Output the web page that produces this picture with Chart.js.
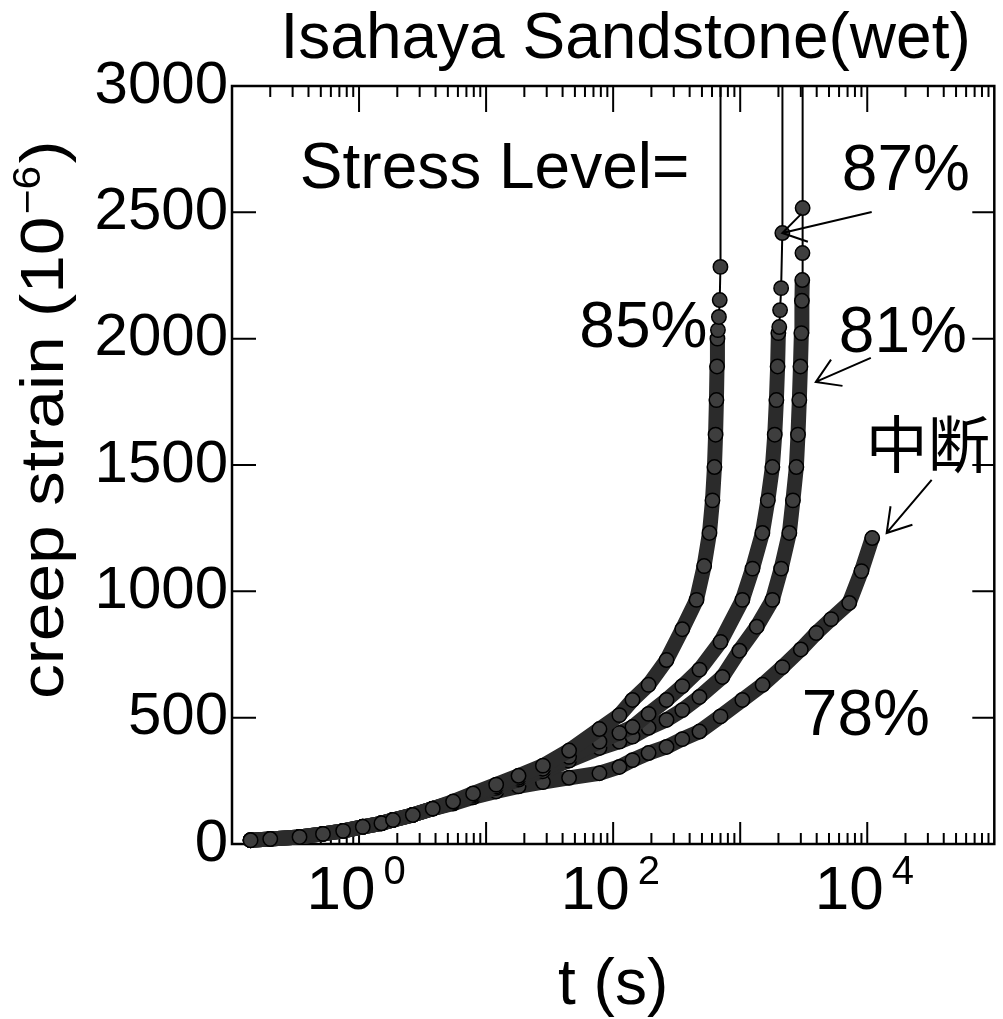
<!DOCTYPE html>
<html><head><meta charset="utf-8">
<script src="https://cdn.jsdelivr.net/npm/chart.js@4.4.0/dist/chart.umd.min.js"></script>
<style>html,body{margin:0;padding:0;background:#fff;}canvas{display:block;}</style>
</head><body>
<canvas id="c" width="1003" height="1019"></canvas>
<script>
// ---------- text ----------
const chartTitle = 'Isahaya Sandstone(wet)';
const xAxisTitle = 't (s)';
const yAxisTitleMain = 'creep strain (10';
const yAxisTitleExp = '−6';
const yAxisTitleEnd = ')';
// ---------- ticks ----------
const xTickValues = [1, 100, 10000];
const xTickBase = ['10', '10', '10'];
const xTickExponents = ['0', '2', '4'];
const xMinorMultipliers = [2, 3, 4, 5, 6, 7, 8, 9];
const xDecades = [-1, 0, 1, 2, 3, 4, 5];
const yTickValues = [0, 500, 1000, 1500, 2000, 2500, 3000];
// ---------- series (t in s, creep strain in 1e-6) ----------
const seriesNames = ['85%', '87%', '81%', '78%'];
const t85 = [0.14, 0.2, 0.34, 0.52, 0.75, 1.07, 1.5, 1.85, 2.65, 3.8, 5.5, 7.9, 12, 18, 28, 45, 78, 112, 142, 190, 263, 350, 453, 520, 573, 605, 627, 640, 650, 657, 662, 668, 680, 690, 699, 700];
const s85 = [15, 20, 28, 40, 52, 68, 82, 95, 115, 140, 168, 200, 235, 270, 310, 370, 455, 510, 570, 630, 728, 850, 966, 1100, 1231, 1360, 1492, 1620, 1757, 1890, 2000, 2034, 2086, 2153, 2284, 4000];
const t87 = [0.14, 0.2, 0.34, 0.52, 0.75, 1.07, 1.5, 1.85, 2.65, 3.8, 5.5, 7.9, 12, 18, 28, 45, 78, 112, 142, 190, 263, 350, 478, 700, 1040, 1250, 1495, 1650, 1792, 1870, 1927, 1970, 1997, 2030, 2060, 2100, 2146, 2150];
const s87 = [15, 20, 28, 40, 52, 68, 82, 95, 115, 140, 165, 195, 228, 262, 298, 345, 405, 440, 463, 515, 570, 625, 690, 800, 966, 1090, 1231, 1360, 1492, 1620, 1757, 1890, 2022, 2046, 2113, 2200, 2418, 4000];
const t81 = [0.14, 0.2, 0.34, 0.52, 0.75, 1.07, 1.5, 1.85, 2.65, 3.8, 5.5, 7.9, 12, 18, 28, 45, 78, 112, 142, 190, 263, 350, 478, 724, 986, 1350, 1792, 2100, 2437, 2600, 2767, 2850, 2920, 2980, 3030, 3060, 3080, 3090, 3100, 3110];
const s81 = [15, 20, 28, 40, 52, 68, 82, 95, 115, 140, 163, 192, 222, 255, 288, 330, 380, 405, 425, 460, 491, 530, 582, 661, 765, 860, 966, 1090, 1231, 1360, 1492, 1620, 1757, 1890, 2022, 2150, 2232, 2339, 2517, 4000];
const t78 = [0.14, 0.2, 0.34, 0.52, 0.75, 1.07, 1.5, 1.85, 2.65, 3.8, 5.5, 7.9, 12, 18, 28, 45, 78, 112, 142, 190, 263, 350, 478, 700, 1040, 1500, 2146, 3000, 3970, 5200, 7210, 9000, 10940];
const s78 = [15, 20, 28, 40, 52, 68, 82, 95, 115, 140, 160, 185, 208, 228, 245, 262, 280, 305, 332, 360, 384, 415, 445, 505, 570, 630, 700, 770, 835, 890, 954, 1080, 1211];
// ---------- annotations (placed in data coordinates) ----------
const annotationTexts = ['Stress Level=', '87%', '85%', '81%', '中断', '78%'];
const annotationAt = [[0.342, 2596], [6310, 2588], [54.2, 1967], [5970, 1947], [9730, 1488], [3055, 431]];
const arrowFrom = [[10840, 2501], [10670, 1924], [32140, 1441]];
const arrowTo = [[2146, 2418], [3936, 1829], [14220, 1231]];

// ---------- styling ----------
const FONT = "'Liberation Sans', Arial, Helvetica, sans-serif";
const CJK = "'Noto Sans CJK JP', 'Noto Sans CJK SC', sans-serif";
const X_LABEL_OFFSET = -18;
const BAND = 15;
const tailFrom = [30, 32, 36, 999];

Chart.defaults.font.family = FONT;
Chart.defaults.color = '#000';

function makeSet(i, ts, ss) {
  return {
    label: seriesNames[i],
    data: ts.map((t, k) => ({x: t, y: ss[k]})),
    showLine: true,
    borderColor: '#2b2b2b',
    borderWidth: BAND,
    borderJoinStyle: 'round',
    borderCapStyle: 'round',
    pointRadius: 7.2,
    pointHoverRadius: 7.2,
    pointBackgroundColor: '#3e3e3e',
    pointBorderColor: '#000',
    pointBorderWidth: 1.5,
    clip: {left: 12, right: 0, top: 0, bottom: 12},
    segment: {
      borderWidth: c => c.p0DataIndex >= tailFrom[i] ? 2 : BAND,
      borderColor: c => c.p0DataIndex >= tailFrom[i] ? '#000' : '#2b2b2b'
    }
  };
}

const framePlugin = {
  id: 'frame',
  afterLayout(chart) {
    const tb = chart.titleBlock;
    if (tb) { tb.left = chart.chartArea.left; tb.right = chart.chartArea.right + 25; }
  },
  beforeDatasetsDraw(chart) {
    const {ctx, chartArea: a, scales: {x: xs, y: ys}} = chart;
    ctx.save();
    ctx.strokeStyle = '#000';
    ctx.lineWidth = 2.5;
    ctx.strokeRect(a.left, a.top, a.right - a.left, a.bottom - a.top);
    ctx.lineWidth = 2;
    ctx.beginPath();
    xDecades.forEach(d => {
      [1].concat(xMinorMultipliers).forEach(m => {
        const v = m * Math.pow(10, d);
        if (v <= xs.min * 1.0001 || v >= xs.max * 0.9999) return;
        const px = xs.getPixelForValue(v);
        const major = m === 1;
        ctx.moveTo(px, a.bottom); ctx.lineTo(px, a.bottom - (major ? 22 : 11));
        ctx.moveTo(px, a.top); ctx.lineTo(px, a.top + (major ? 26 : 11));
      });
    });
    yTickValues.forEach(v => {
      const py = ys.getPixelForValue(v);
      if (v === ys.min || v === ys.max) return;
      ctx.moveTo(a.left, py); ctx.lineTo(a.left + 24, py);
      ctx.moveTo(a.right, py); ctx.lineTo(a.right - 22, py);
    });
    ctx.stroke();
    ctx.restore();
  },
  afterDraw(chart) {
    const {ctx, scales: {x: xs, y: ys}} = chart;
    ctx.save();
    ctx.fillStyle = '#000';
    // y axis title (rotated, with superscript exponent)
    ctx.save();
    ctx.translate(63, 699);
    ctx.rotate(-Math.PI / 2);
    ctx.scale(1.12, 1);
    ctx.textAlign = 'left';
    ctx.textBaseline = 'alphabetic';
    ctx.font = '62px ' + FONT;
    ctx.fillText(yAxisTitleMain, 0, 0);
    let pos = ctx.measureText(yAxisTitleMain).width + 2;
    ctx.font = '38px ' + FONT;
    ctx.fillText(yAxisTitleExp, pos, -23);
    pos += ctx.measureText(yAxisTitleExp).width + 2;
    ctx.font = '62px ' + FONT;
    ctx.fillText(yAxisTitleEnd, pos, 0);
    ctx.restore();
    // superscript exponents of the x tick labels
    ctx.font = '62px ' + FONT;
    const w = ctx.measureText('10').width;
    ctx.font = '40px ' + FONT;
    ctx.textAlign = 'left';
    ctx.textBaseline = 'alphabetic';
    xs.ticks.forEach((tk, i) => {
      const px = xs.getPixelForValue(tk.value) + X_LABEL_OFFSET;
      ctx.fillText(xTickExponents[i], px + w / 2 + 8, 884);
    });
    // annotation texts
    annotationTexts.forEach((txt, i) => {
      const isCjk = /[\u4e00-\u9fff]/.test(txt);
      ctx.font = (isCjk ? '62px ' + CJK : '64px ' + FONT);
      ctx.fillText(txt, xs.getPixelForValue(annotationAt[i][0]), ys.getPixelForValue(annotationAt[i][1]));
    });
    // arrows
    ctx.strokeStyle = '#000';
    ctx.lineWidth = 2;
    arrowFrom.forEach((f, i) => {
      const x0 = xs.getPixelForValue(f[0]), y0 = ys.getPixelForValue(f[1]);
      const x1 = xs.getPixelForValue(arrowTo[i][0]), y1 = ys.getPixelForValue(arrowTo[i][1]);
      const ang = Math.atan2(y0 - y1, x0 - x1);
      const L = 27, h = 0.56;
      ctx.beginPath();
      ctx.moveTo(x0, y0); ctx.lineTo(x1, y1);
      ctx.moveTo(x1 + L * Math.cos(ang - h), y1 + L * Math.sin(ang - h));
      ctx.lineTo(x1, y1);
      ctx.lineTo(x1 + L * Math.cos(ang + h), y1 + L * Math.sin(ang + h));
      ctx.stroke();
    });
    ctx.restore();
  }
};

new Chart(document.getElementById('c'), {
  type: 'scatter',
  data: {
    datasets: [
      makeSet(0, t85, s85),
      makeSet(1, t87, s87),
      makeSet(2, t81, s81),
      makeSet(3, t78, s78)
    ]
  },
  options: {
    responsive: false,
    animation: false,
    devicePixelRatio: 1,
    events: [],
    layout: {padding: {left: 0, right: 7, top: 0, bottom: 0}},
    plugins: {
      legend: {display: false},
      tooltip: {enabled: false},
      title: {
        display: true, text: chartTitle, color: '#000',
        font: {size: 64, weight: 'normal', lineHeight: 1},
        padding: {top: 8, bottom: 14}
      }
    },
    scales: {
      x: {
        type: 'logarithmic', min: 0.1, max: 100000, position: 'bottom',
        grid: {display: false, drawTicks: false},
        border: {display: false},
        afterBuildTicks: s => { s.ticks = xTickValues.map(v => ({value: v})); },
        afterFit: s => { s.height = 175; },
        ticks: {
          autoSkip: false, maxRotation: 0, minRotation: 0,
          font: {size: 62}, color: '#000', padding: 11, labelOffset: X_LABEL_OFFSET,
          callback: (v, i) => xTickBase[i]
        },
        title: {display: true, text: xAxisTitle, color: '#000', font: {size: 64, lineHeight: 1}, padding: {top: 0, bottom: 1}}
      },
      y: {
        type: 'linear', min: 0, max: 3000,
        grid: {display: false, drawTicks: false},
        border: {display: false},
        afterBuildTicks: s => { s.ticks = yTickValues.map(v => ({value: v})); },
        afterFit: s => { s.width = 232; },
        ticks: {font: {size: 60}, color: '#000', padding: 4, callback: v => String(v)},
        title: {display: false}
      }
    }
  },
  plugins: [framePlugin]
});
</script>
</body></html>
